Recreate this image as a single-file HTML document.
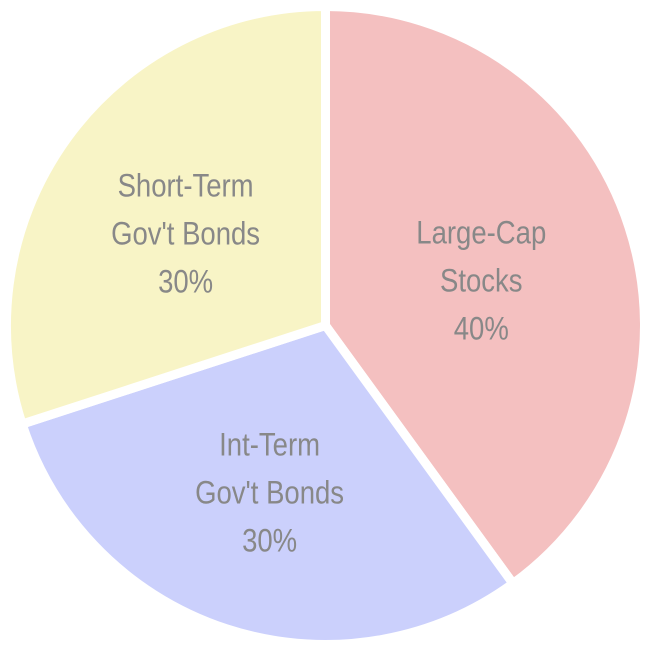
<!DOCTYPE html>
<html><head><meta charset="utf-8"><style>
html,body{margin:0;padding:0;background:#fff;width:651px;height:651px;overflow:hidden}
text{font-family:"Liberation Sans Narrow","Liberation Sans",sans-serif;fill:#888;font-size:32px}
</style></head><body>
<svg id="chart" width="651" height="651" viewBox="0 0 651 651"></svg>
<script>
const categories=[["Large-Cap","Stocks"],["Int-Term","Gov't Bonds"],["Short-Term","Gov't Bonds"]];
const values=[40,30,30];
const labels=["40%","30%","30%"];
const colors=["#f4c0c0","#cbd0fc","#f8f4c6"];
const names=["slice-large-cap-stocks","slice-int-term-govt-bonds","slice-short-term-govt-bonds"];
const svg=document.getElementById('chart');
const NS="http://www.w3.org/2000/svg";
const cx=325.5,cy=325.5,R=319;
const total=values.reduce((a,b)=>a+b,0);
function pt(a,r){return [cx+r*Math.sin(a),cy-r*Math.cos(a)];}
let start=0;
values.forEach((v,i)=>{
  const sweep=v/total*2*Math.PI,end=start+sweep;
  const p1=pt(start,R),p2=pt(end,R);
  const path=document.createElementNS(NS,'path');
  path.setAttribute('d',`M${cx},${cy} L${p1[0]},${p1[1]} A${R},${R} 0 ${sweep>Math.PI?1:0} 1 ${p2[0]},${p2[1]} Z`);
  path.setAttribute('fill',colors[i]);path.setAttribute('stroke','#fff');
  path.setAttribute('stroke-width','9');path.setAttribute('stroke-linejoin','round');
  
  
  svg.appendChild(path);
  const mid=(start+end)/2,lp=pt(mid,168);
  const lines=[...categories[i],labels[i]];
  const t=document.createElementNS(NS,'text');
  t.setAttribute('text-anchor','middle');
  t.setAttribute('transform',`translate(${lp[0]-4},0) scale(0.86,1)`);
  
  
  lines.forEach((s,j)=>{
    const ts=document.createElementNS(NS,'tspan');
    ts.setAttribute('x',0);ts.setAttribute('y',lp[1]+(j-1)*48+18);
    ts.textContent=s;t.appendChild(ts);
  });
  svg.appendChild(t);
  start=end;
});
</script>
</body></html>
